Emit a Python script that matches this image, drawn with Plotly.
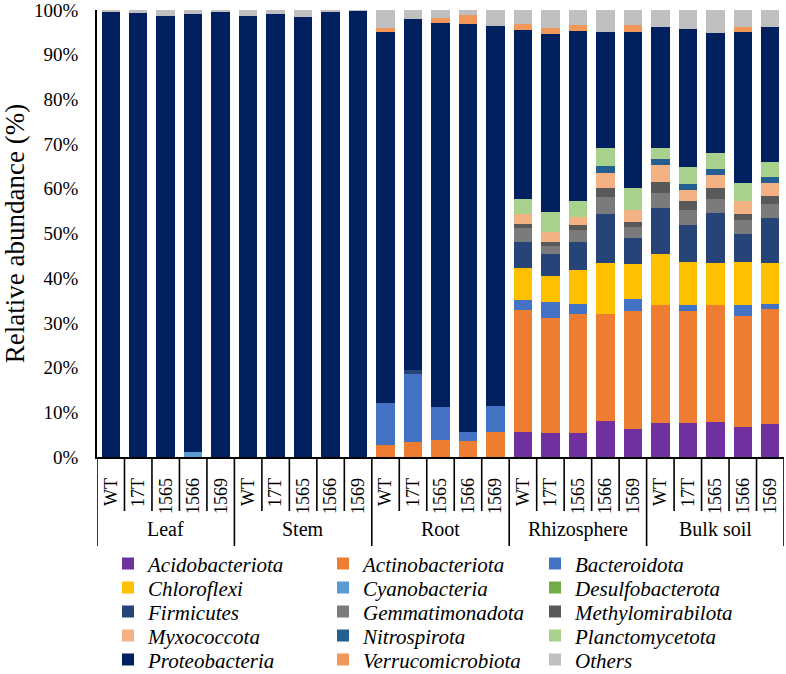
import plotly.graph_objects as go

groups = ["Leaf", "Stem", "Root", "Rhizosphere", "Bulk soil"]
subs = ["WT", "17T", "1565", "1566", "1569"]

phyla = ["Acidobacteriota", "Actinobacteriota", "Bacteroidota", "Chloroflexi",
         "Cyanobacteria", "Desulfobacterota", "Firmicutes", "Gemmatimonadota",
         "Methylomirabilota", "Myxococcota", "Nitrospirota", "Planctomycetota",
         "Proteobacteria", "Verrucomicrobiota", "Others"]

colors = ["#7030A0", "#ED7D31", "#4472C4", "#FFC000", "#5B9BD5", "#70AD47",
          "#264478", "#7B7B7B", "#595959", "#F4B183", "#255E91", "#A9D18E",
          "#002060", "#F1975A", "#BFBFBF"]

Z5 = [0, 0, 0, 0, 0]
# order: Leaf(5), Stem(5), Root(5), Rhizosphere(5), Bulk soil(5)
acidobacteriota = Z5 + Z5 + Z5 + [5.5, 5.4, 5.3, 8.0, 6.2] + [7.5, 7.5, 7.8, 6.8, 7.3]
actinobacteriota = Z5 + Z5 + [2.6, 3.3, 3.8, 3.5, 5.5] + [27.3, 25.6, 26.8, 24.1, 26.4] + [26.5, 25.1, 26.3, 24.7, 25.9]
bacteroidota = Z5 + Z5 + [9.4, 15.2, 7.4, 2.0, 5.9] + [2.4, 3.7, 2.2, 0, 2.8] + [0, 1.5, 0, 2.6, 1.1]
chloroflexi = Z5 + Z5 + Z5 + [7.0, 5.9, 7.6, 11.2, 7.8] + [11.5, 9.5, 9.2, 9.5, 9.1]
cyanobacteria = [0, 0, 0, 1.2, 0] + Z5 + Z5 + Z5 + Z5
desulfobacterota = Z5 + Z5 + Z5 + Z5 + Z5
firmicutes = Z5 + Z5 + [0, 0.9, 0, 0, 0] + [6.0, 4.9, 6.2, 11.1, 5.7] + [10.1, 8.3, 11.2, 6.2, 10.1]
gemmatimonadota = Z5 + Z5 + Z5 + [3.0, 1.8, 2.6, 3.7, 2.5] + [3.5, 3.3, 3.3, 3.2, 3.0]
methylomirabilota = Z5 + Z5 + Z5 + [1.0, 0.8, 1.2, 2.1, 1.2] + [2.4, 2.0, 2.4, 1.4, 2.0]
myxococcota = Z5 + Z5 + Z5 + [2.1, 2.3, 1.8, 3.4, 2.6] + [3.8, 2.5, 3.0, 2.8, 2.8]
nitrospirota = Z5 + Z5 + Z5 + [0, 0, 0, 1.6, 0] + [1.3, 1.4, 1.3, 0, 1.4]
planctomycetota = Z5 + Z5 + Z5 + [3.5, 4.5, 3.5, 3.9, 4.9] + [2.6, 3.8, 3.4, 4.1, 3.3]
proteobacteria = [99.6, 99.4, 98.6, 97.9, 99.7] + [98.6, 99.0, 98.4, 99.7, 99.9] + [83.0, 78.6, 85.8, 91.4, 85.1] + [37.7, 39.8, 38.1, 25.9, 35.0] + [26.9, 30.8, 27.0, 33.8, 30.2]
verrucomicrobiota = Z5 + Z5 + [1.0, 0, 1.2, 1.9, 0] + [1.4, 1.3, 1.3, 0, 1.5] + [0, 0, 0, 1.1, 0]
others = [0.4, 0.6, 1.4, 0.9, 0.3] + [1.4, 1.0, 1.6, 0.3, 0.1] + [4.0, 2.0, 1.8, 1.2, 3.5] + [3.1, 4.0, 3.4, 5.0, 3.4] + [3.9, 4.2, 5.1, 3.8, 3.8]

series = [acidobacteriota, actinobacteriota, bacteroidota, chloroflexi, cyanobacteria,
          desulfobacterota, firmicutes, gemmatimonadota, methylomirabilota, myxococcota,
          nitrospirota, planctomycetota, proteobacteria, verrucomicrobiota, others]

tick_labels = subs * len(groups)
xs = list(range(len(tick_labels)))

FONT = "Liberation Serif"

# plot geometry
W, H = 786, 674
ml, mr, mt, mb = 97, 2, 10, 217
pw = W - ml - mr
ph = H - mt - mb

def py(pix):
    return (H - mb - pix) / ph

def px(pix):
    return (pix - ml) / pw

# one legend per entry so the 3-column grid can be placed precisely
leg_size = 21
col_text_x = [148, 363, 575]
row_center_y = [563.5, 587.5, 611.5, 635.5, 659.5]
item_h = leg_size * 1.3 + 3

legends = {}
fig = go.Figure()
for k, (name, vals, col) in enumerate(zip(phyla, series, colors)):
    lname = "legend" if k == 0 else f"legend{k + 1}"
    r, c = divmod(k, 3)
    legends[lname] = dict(orientation="v", x=px(col_text_x[c] - 40), xanchor="left",
                          y=py(row_center_y[r] - (5 + item_h / 2)), yanchor="top",
                          font=dict(family=FONT, size=leg_size, color="black", style="italic"),
                          bgcolor="rgba(0,0,0,0)")
    fig.add_trace(go.Bar(x=xs, y=vals, name=name, legend=lname,
                         marker=dict(color=col, line=dict(width=0))))

shapes = []
n = len(tick_labels)
for i in range(n + 1):
    is_group = (i % len(subs) == 0)
    shapes.append(dict(type="line", xref="x", yref="paper",
                       x0=i - 0.5, x1=i - 0.5, y0=0,
                       y1=py(546) if is_group else py(511),
                       line=dict(color="black", width=1.6)))

annotations = []
for g, gname in enumerate(groups):
    annotations.append(dict(x=g * len(subs) + (len(subs) - 1) / 2, xref="x",
                            y=py(529), yref="paper", text=gname, showarrow=False,
                            xanchor="center", yanchor="middle",
                            font=dict(family=FONT, size=20, color="black")))

fig.update_layout(
    width=W, height=H,
    margin=dict(l=ml, r=mr, t=mt, b=mb, pad=0, autoexpand=False),
    barmode="stack", bargap=0.33,
    plot_bgcolor="white", paper_bgcolor="white",
    font=dict(family=FONT, color="black"),
    xaxis=dict(range=[-0.5, n - 0.5], tickvals=xs, ticktext=tick_labels,
               tickangle=-90, ticks="", showgrid=False, zeroline=False,
               showline=True, linecolor="black", linewidth=1.6,
               tickfont=dict(family=FONT, size=18, color="black"),
               ticklabelstandoff=12, ticklabeloverflow="allow", automargin=False),
    yaxis=dict(range=[0, 100], tickvals=list(range(0, 101, 10)),
               ticktext=[f"{v}%" for v in range(0, 101, 10)],
               ticks="", showgrid=False, zeroline=False,
               showline=True, linecolor="black", linewidth=1.6,
               tickfont=dict(family=FONT, size=19, color="black"),
               ticklabelstandoff=13, ticklabeloverflow="allow", automargin=False,
               title=dict(text="Relative abundance (%)", standoff=6,
                          font=dict(family=FONT, size=27, color="black"))),
    shapes=shapes, annotations=annotations,
    showlegend=True,
    **legends,
)

fig.write_html("out.html", config={"displayModeBar": False},
               post_script="document.body.style.margin='0px';")
